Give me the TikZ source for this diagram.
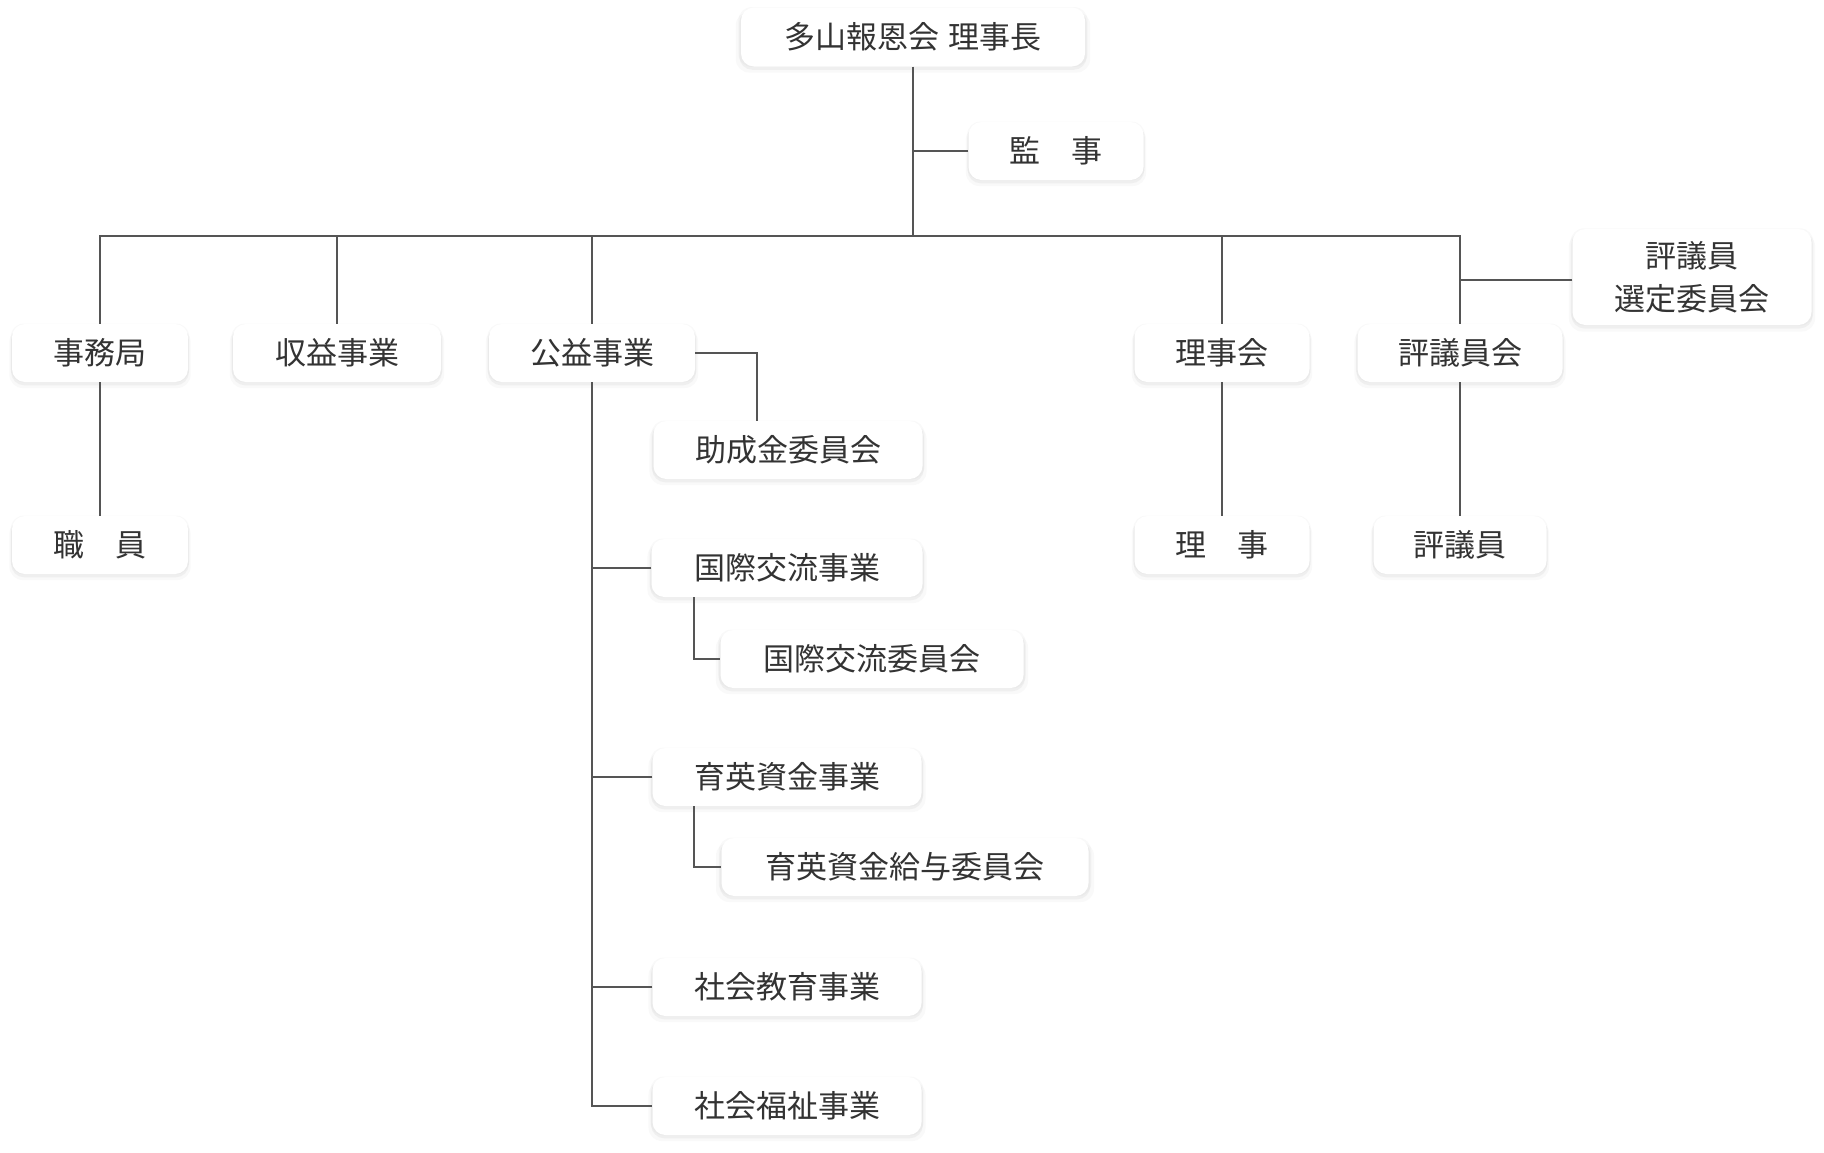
\documentclass[tikz,border=0pt]{standalone}
\usepackage{fontspec}
\setmainfont{Noto Sans CJK JP}
\usetikzlibrary{shadows}
\definecolor{txt}{HTML}{333333}
\definecolor{ln}{HTML}{555555}
\tikzset{
  orgbox/.style={draw=none, fill=white, rounded corners=13pt, minimum height=58pt,
    inner sep=0pt, text=txt, font=\fontsize{31pt}{43pt}\selectfont, align=center,
    drop shadow={opacity=0.05, shadow xshift=0pt, shadow yshift=-5pt, shadow scale=1.03},
    drop shadow={opacity=0.08, shadow xshift=0pt, shadow yshift=-3pt, shadow scale=1.01},
    drop shadow={opacity=0.05, shadow xshift=0pt, shadow yshift=0pt, shadow scale=1.015}},
  conn/.style={draw=ln, line width=2pt}
}
\begin{document}
\begin{tikzpicture}[x=1pt,y=-1pt]
\useasboundingbox (0,0) rectangle (1824,1152);
\node[orgbox, minimum width=344pt, minimum height=59pt] (chair) at (913,37) {多山報恩会\hspace{10pt}理事長};
\node[orgbox, minimum width=175pt] (kanji) at (1056,151) {監　事};
\node[orgbox, minimum width=176pt] (jimu) at (100,353) {事務局};
\node[orgbox, minimum width=208pt] (shueki) at (337,353) {収益事業};
\node[orgbox, minimum width=206pt] (koeki) at (592,353) {公益事業};
\node[orgbox, minimum width=175pt] (rijikai) at (1222,353) {理事会};
\node[orgbox, minimum width=205pt] (hyogiinkai) at (1460,353) {評議員会};
\node[orgbox, minimum width=239pt, minimum height=96pt] (sentei) at (1692,277) {評議員\\選定委員会};
\node[orgbox, minimum width=176pt] (shokuin) at (100,545) {職　員};
\node[orgbox, minimum width=175pt] (riji) at (1222,545) {理　事};
\node[orgbox, minimum width=173pt] (hyogiin) at (1460,545) {評議員};
\node[orgbox, minimum width=269pt] (josei) at (788,450) {助成金委員会};
\node[orgbox, minimum width=271pt] (kokusai) at (787,568) {国際交流事業};
\node[orgbox, minimum width=303pt] (kokusaiiin) at (872,659) {国際交流委員会};
\node[orgbox, minimum width=269pt] (ikuei) at (787,777) {育英資金事業};
\node[orgbox, minimum width=367pt] (ikueiiin) at (905,867) {育英資金給与委員会};
\node[orgbox, minimum width=269pt] (kyoiku) at (787,987) {社会教育事業};
\node[orgbox, minimum width=269pt] (fukushi) at (787,1106) {社会福祉事業};
\coordinate (bus) at (913,236);
\draw[conn] (chair.south) -- (bus);
\draw[conn] (kanji.west) -- (kanji.west -| chair.south);
\draw[conn] (jimu.north) -- (jimu.north |- bus) -- (hyogiinkai.north |- bus) -- (hyogiinkai.north);
\draw[conn] (shueki.north) -- (shueki.north |- bus);
\draw[conn] (koeki.north) -- (koeki.north |- bus);
\draw[conn] (rijikai.north) -- (rijikai.north |- bus);
\draw[conn] ([yshift=-3pt]sentei.west) -- ([yshift=-3pt]sentei.west -| hyogiinkai.north);
\draw[conn] (jimu.south) -- (shokuin.north);
\draw[conn] (rijikai.south) -- (riji.north);
\draw[conn] (hyogiinkai.south) -- (hyogiin.north);
\draw[conn] (koeki.east) -| ([xshift=-31pt]josei.north);
\draw[conn] (koeki.south) |- (fukushi.west);
\draw[conn] (kokusai.west) -- (kokusai.west -| koeki.south);
\draw[conn] (ikuei.west) -- (ikuei.west -| koeki.south);
\draw[conn] (kyoiku.west) -- (kyoiku.west -| koeki.south);
\draw[conn] ([xshift=-93pt]kokusai.south) |- (kokusaiiin.west);
\draw[conn] ([xshift=-93pt]ikuei.south) |- (ikueiiin.west);
\end{tikzpicture}
\end{document}
